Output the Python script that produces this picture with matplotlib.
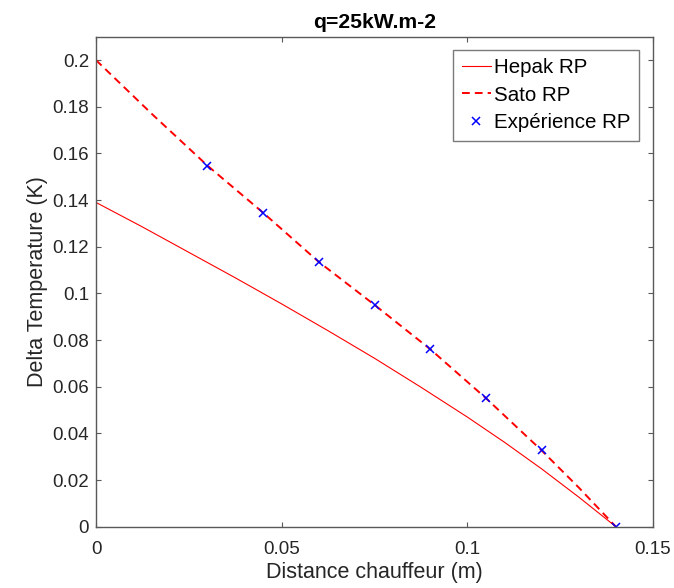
import matplotlib
matplotlib.use("Agg")
import matplotlib.pyplot as plt

plt.rcParams['font.family'] = ['Liberation Sans', 'DejaVu Sans']

# Data
hepak_x = [0.0, 0.0125, 0.025, 0.0375, 0.05, 0.0625, 0.075, 0.0875, 0.1, 0.11, 0.12, 0.13, 0.14]
hepak_y = [0.139, 0.1285, 0.1176, 0.1067, 0.0955, 0.0840, 0.0722, 0.0598, 0.0470, 0.0362, 0.0248, 0.0127, 0.0]

sato_x = [0.0, 0.015, 0.03, 0.045, 0.06, 0.075, 0.09, 0.105, 0.12, 0.13, 0.14]
sato_y = [0.2, 0.1770, 0.1548, 0.1346, 0.1135, 0.0951, 0.0761, 0.0551, 0.0327, 0.0168, 0.0]

exp_x = [0.03, 0.045, 0.06, 0.075, 0.09, 0.105, 0.12, 0.14]
exp_y = [0.1548, 0.1346, 0.1135, 0.0951, 0.0761, 0.0551, 0.0327, 0.0]

xticks = [0, 0.05, 0.1, 0.15]
xtick_labels = ['0', '0.05', '0.1', '0.15']
yticks = [0, 0.02, 0.04, 0.06, 0.08, 0.1, 0.12, 0.14, 0.16, 0.18, 0.2]
ytick_labels = ['0', '0.02', '0.04', '0.06', '0.08', '0.1', '0.12', '0.14', '0.16', '0.18', '0.2']

fig = plt.figure(figsize=(6.74, 5.88), dpi=100)
ax = fig.add_axes([96 / 674, 1 - 526.7 / 588, (653 - 96) / 674, (526.7 - 36.8) / 588])

ax.plot(hepak_x, hepak_y, color='red', lw=0.8, label='Hepak RP')
ax.plot(sato_x, sato_y, color='red', lw=1.4, linestyle=(0, (4, 2.6)), label='Sato RP')
ax.plot(exp_x, exp_y, linestyle='none', marker='x', color='blue', markersize=6,
        markeredgewidth=1.1, label='Expérience RP')

ax.set_xlim(0, 0.15)
ax.set_ylim(0, 0.21)
ax.set_xticks(xticks)
ax.set_xticklabels(xtick_labels)
ax.set_yticks(yticks)
ax.set_yticklabels(ytick_labels)

axcol = (0.15, 0.15, 0.15)
spinecol = (0.35, 0.35, 0.35)
for s in ax.spines.values():
    s.set_color(spinecol)
    s.set_linewidth(1.0)
ax.tick_params(direction='in', top=True, right=True, length=3.6, width=0.8,
               colors=spinecol, labelsize=13.5, labelcolor=axcol)
ax.tick_params(axis='x', pad=10)
ax.tick_params(axis='y', pad=5)

ax.set_title('q=25kW.m-2', fontsize=15.2, fontweight='bold', color='black', pad=6)
ax.set_xlabel('Distance chauffeur (m)', fontsize=15.5, color=axcol, labelpad=3)
ax.set_ylabel('Delta Temperature (K)', fontsize=15.5, color=axcol, labelpad=3)

leg = ax.legend(loc='upper right', fontsize=14.8, frameon=True, fancybox=False,
                edgecolor=spinecol, bbox_to_anchor=(1 - 14 / 557, 1 - 13 / 490),
                borderaxespad=0.0, handlelength=1.4,
                handletextpad=0.15, labelspacing=0.4, borderpad=0.42)
leg.get_frame().set_linewidth(1.0)
for t in leg.get_texts():
    t.set_color('black')

fig.savefig('out.png', dpi=100, facecolor='white')
